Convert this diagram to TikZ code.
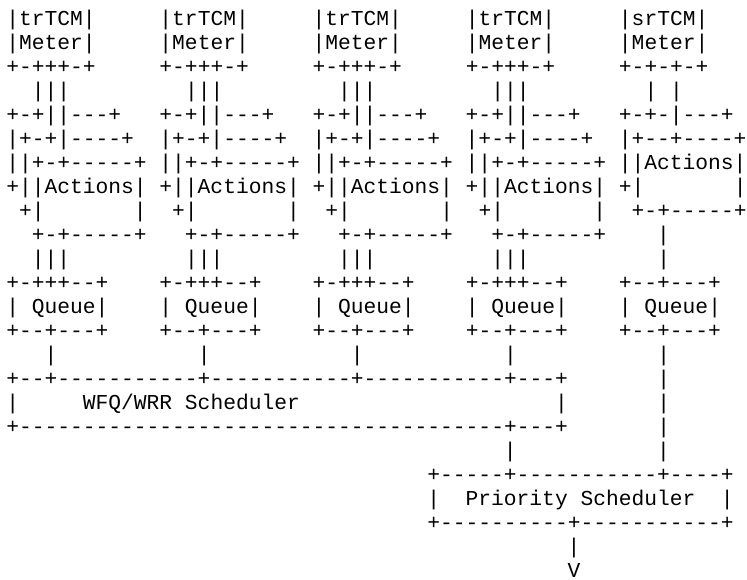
\documentclass[tikz,border=0pt]{standalone}
\usepackage{fontspec}
\setmonofont{Liberation Mono}
\tikzset{
  asciirow/.style={anchor=base west, inner sep=0pt, outer sep=0pt, text=black,
    font=\ttfamily\fontsize{21.27pt}{24pt}\selectfont}
}
\begin{document}
\begin{tikzpicture}[x=12.76pt, y=-24pt]
\useasboundingbox (0pt,0pt) rectangle (747pt,-580pt);
% column 0 left edge at 6.3pt, row k baseline at 26pt + (k-1)*24pt
\begin{scope}[shift={(0.494,0.083)}]
\node[asciirow] (r1)  at (0,1)  {|trTCM|~~~~~|trTCM|~~~~~|trTCM|~~~~~|trTCM|~~~~~|srTCM|};
\node[asciirow] (r2)  at (0,2)  {|Meter|~~~~~|Meter|~~~~~|Meter|~~~~~|Meter|~~~~~|Meter|};
\node[asciirow] (r3)  at (0,3)  {+-+++-+~~~~~+-+++-+~~~~~+-+++-+~~~~~+-+++-+~~~~~+-+-+-+};
\node[asciirow] (r4)  at (0,4)  {~~|||~~~~~~~~~|||~~~~~~~~~|||~~~~~~~~~|||~~~~~~~~~|~|};
\node[asciirow] (r5)  at (0,5)  {+-+||---+~~~+-+||---+~~~+-+||---+~~~+-+||---+~~~+-+-|---+};
\node[asciirow] (r6)  at (0,6)  {|+-+|----+~~|+-+|----+~~|+-+|----+~~|+-+|----+~~|+--+----+};
\node[asciirow] (r7)  at (0,7)  {||+-+-----+~||+-+-----+~||+-+-----+~||+-+-----+~||Actions|};
\node[asciirow] (r8)  at (0,8)  {+||Actions|~+||Actions|~+||Actions|~+||Actions|~+|~~~~~~~|};
\node[asciirow] (r9)  at (0,9)  {~+|~~~~~~~|~~+|~~~~~~~|~~+|~~~~~~~|~~+|~~~~~~~|~~+-+-----+};
\node[asciirow] (r10) at (0,10) {~~+-+-----+~~~+-+-----+~~~+-+-----+~~~+-+-----+~~~~|};
\node[asciirow] (r11) at (0,11) {~~|||~~~~~~~~~|||~~~~~~~~~|||~~~~~~~~~|||~~~~~~~~~~|};
\node[asciirow] (r12) at (0,12) {+-+++--+~~~~+-+++--+~~~~+-+++--+~~~~+-+++--+~~~~+--+---+};
\node[asciirow] (r13) at (0,13) {|~Queue|~~~~|~Queue|~~~~|~Queue|~~~~|~Queue|~~~~|~Queue|};
\node[asciirow] (r14) at (0,14) {+--+---+~~~~+--+---+~~~~+--+---+~~~~+--+---+~~~~+--+---+};
\node[asciirow] (r15) at (0,15) {~~~|~~~~~~~~~~~|~~~~~~~~~~~|~~~~~~~~~~~|~~~~~~~~~~~|};
\node[asciirow] (r16) at (0,16) {+--+-----------+-----------+-----------+---+~~~~~~~|};
\node[asciirow] (r17) at (0,17) {|~~~~~WFQ/WRR~Scheduler~~~~~~~~~~~~~~~~~~~~|~~~~~~~|};
\node[asciirow] (r18) at (0,18) {+--------------------------------------+---+~~~~~~~|};
\node[asciirow] (r19) at (39,19) {|~~~~~~~~~~~|};
\node[asciirow] (r20) at (33,20) {+-----+-----------+----+};
\node[asciirow] (r21) at (33,21) {|~~Priority~Scheduler~~|};
\node[asciirow] (r22) at (33,22) {+----------+-----------+};
\node[asciirow] (r23) at (44,23) {|};
\node[asciirow] (r24) at (44,24) {V};
\end{scope}
\end{tikzpicture}
\end{document}
